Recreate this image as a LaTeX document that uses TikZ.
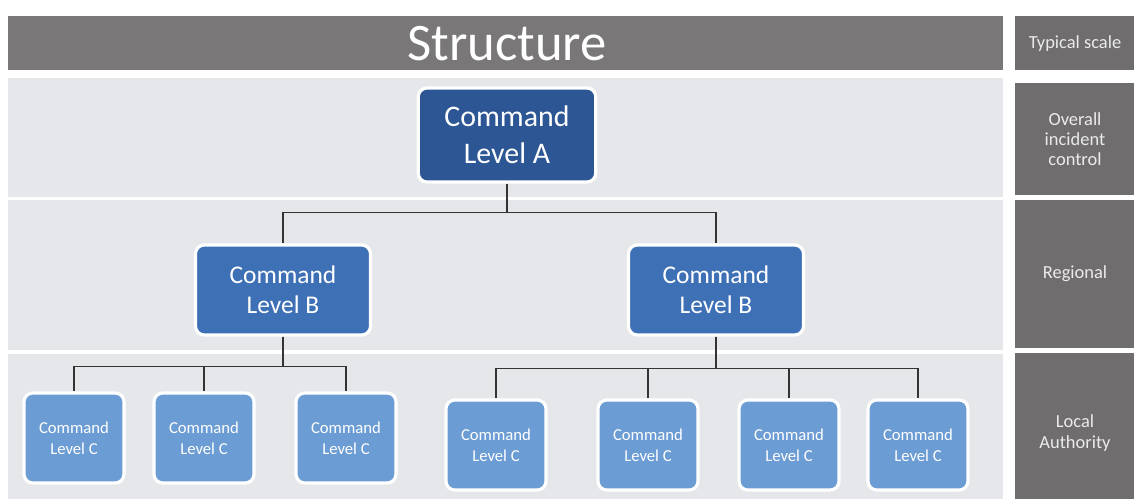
\documentclass[tikz,border=0pt]{standalone}
\usepackage{fontspec}
\setmainfont{Carlito}
\usetikzlibrary{positioning}
\definecolor{BandGrey}{RGB}{229,231,234}
\definecolor{TitleGrey}{RGB}{122,119,121}
\definecolor{ScaleGrey}{RGB}{112,109,111}
\definecolor{CmdDark}{RGB}{44,86,148}
\definecolor{CmdMid}{RGB}{62,112,182}
\definecolor{CmdLight}{RGB}{108,156,212}

\begin{document}
\begin{tikzpicture}[
        x=0.02cm, y=-0.02cm,
        band/.style={fill=BandGrey, draw=none},
        scalebox/.style={fill=ScaleGrey, draw=none},
        scaletext/.style={text=white!92!black, font=\fontsize{10.5}{11.5}\selectfont, align=center},
        cmd/.style={rectangle, rounded corners=5pt, draw=white, line width=1.8pt, text=white, align=center},
        levela/.style={cmd, fill=CmdDark, minimum width=3.55cm, minimum height=1.88cm, font=\fontsize{17}{21}\selectfont},
        levelb/.style={cmd, fill=CmdMid, minimum width=3.5cm, minimum height=1.8cm, font=\fontsize{14.5}{17}\selectfont},
        levelc/.style={cmd, fill=CmdLight, minimum width=2cm, minimum height=1.8cm, font=\fontsize{9.5}{12}\selectfont},
        link/.style={draw=black!80, line width=1pt}
    ]
        \useasboundingbox (0,0) rectangle (1134,499);
        \fill[white] (0,0) rectangle (1134,499);

        % title bar and level bands
        \fill[TitleGrey] (8,16) rectangle (1003,70);
        \node[text=white, font=\fontsize{30}{33}\selectfont] (title) at (507,44) {Structure};
        \fill[band] (8,78) rectangle (1003,197);
        \fill[band] (8,200) rectangle (1003,350);
        \fill[band] (8,354) rectangle (1003,499);

        % typical scale column
        \fill[scalebox] (1015,16) rectangle (1134,70);
        \fill[scalebox] (1015,83) rectangle (1134,195);
        \fill[scalebox] (1015,200) rectangle (1134,348);
        \fill[scalebox] (1015,353) rectangle (1134,499);
        \node[scaletext] (scale) at (1075,44) {Typical scale};
        \node[scaletext] (overall) at (1075,139) {Overall\\incident\\control};
        \node[scaletext] (regional) at (1075,274) {Regional};
        \node[scaletext] (local) at (1075,433) {Local\\Authority};

        % command boxes
        \node[levela] (cmda) at (507,135) {Command\\Level A};
        \node[levelb] (cmdb1) at (283,290) {Command\\Level B};
        \node[levelb] (cmdb2) at (716,290) {Command\\Level B};

        \node[levelc] (cmdc1) at (74,438) {Command\\Level C};
        \node[levelc] (cmdc2) at (204,438) {Command\\Level C};
        \node[levelc] (cmdc3) at (346,438) {Command\\Level C};
        \node[levelc] (cmdc4) at (496,445) {Command\\Level C};
        \node[levelc] (cmdc5) at (648,445) {Command\\Level C};
        \node[levelc] (cmdc6) at (789,445) {Command\\Level C};
        \node[levelc] (cmdc7) at (918,445) {Command\\Level C};

        % connectors
        \draw[link] (cmda.south) -- ++(0,29) -| (cmdb1.north);
        \draw[link] (cmda.south) -- ++(0,29) -| (cmdb2.north);
        \foreach \c in {cmdc1,cmdc2,cmdc3}
            \draw[link] (cmdb1.south) -- ++(0,30) -| (\c.north);
        \foreach \c in {cmdc4,cmdc5,cmdc6,cmdc7}
            \draw[link] (cmdb2.south) -- ++(0,32) -| (\c.north);

    \end{tikzpicture}
\end{document}
